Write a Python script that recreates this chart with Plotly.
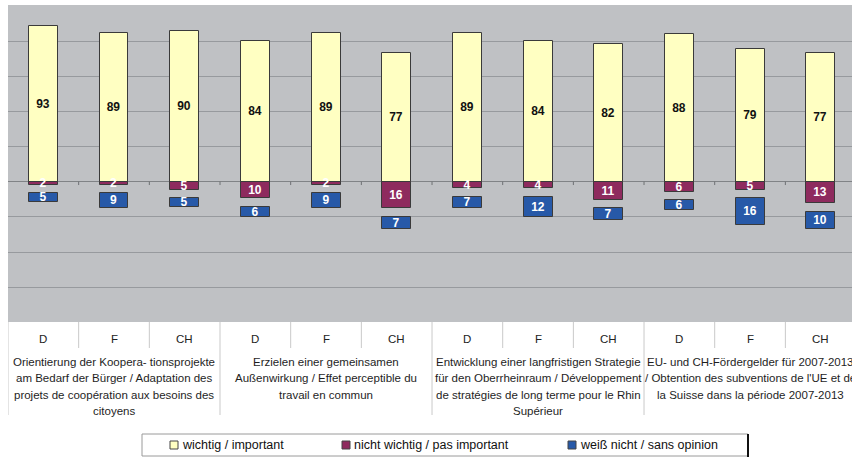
import plotly.graph_objects as go

# ---- data -------------------------------------------------------------
countries = ["D", "F", "CH"] * 4
wichtig = [93, 89, 90, 84, 89, 77, 89, 84, 82, 88, 79, 77]
nicht_wichtig = [2, 2, 5, 10, 2, 16, 4, 4, 11, 6, 5, 13]
weiss_nicht = [5, 9, 5, 6, 9, 7, 7, 12, 7, 6, 16, 10]

group_labels = [
    ["Orientierung der Koopera- tionsprojekte",
     "am Bedarf der Bürger / Adaptation des",
     "projets de coopération aux besoins des",
     "citoyens"],
    ["Erzielen einer gemeinsamen",
     "Außenwirkung / Effet perceptible du",
     "travail en commun"],
    ["Entwicklung einer langfristigen Strategie",
     "für den Oberrheinraum / Développement",
     "de stratégies de long terme pour le Rhin",
     "Supérieur"],
    ["EU- und CH-Fördergelder für 2007-2013",
     "/ Obtention des subventions de l'UE et de",
     "la Suisse dans la période 2007-2013"],
]

series_names = ["wichtig / important",
                "nicht wichtig / pas important",
                "weiß nicht / sans opinion"]

# ---- style ------------------------------------------------------------
W, H = 852, 457
M_L, M_R, M_T, M_B = 8, 0, 5, 135
PLOT_W = W - M_L - M_R
PLOT_H = H - M_T - M_B
FONT = "Liberation Sans, Arial, sans-serif"
C_YEL = "#ffffc2"
C_MAR = "#8e2b5e"
C_BLU = "#2759a8"
C_EDGE = "#3a3a3a"
BG = "#bfc1c4"
GRID = "#979a9e"
GAP = 5          # visual gap between the "nicht wichtig" and "weiß nicht" bars
BAR_W = 0.41
CAT_PX = 70.67   # pixel width of one category slot

n = len(countries)
x = list(range(n))
x_max = PLOT_W / CAT_PX - 0.5


def py_to_paper(py):
    return (H - M_B - py) / PLOT_H


def px_to_paper(px):
    return (px - M_L) / PLOT_W


def bar_text_font(color):
    return dict(family=FONT, size=12, color=color, weight="bold")


fig = go.Figure()

fig.add_trace(go.Bar(
    x=x, y=wichtig, width=BAR_W, name=series_names[0],
    marker=dict(color=C_YEL, line=dict(color=C_EDGE, width=1)),
    text=[str(v) for v in wichtig], textposition="inside",
    insidetextanchor="middle", textangle=0,
    textfont=bar_text_font("#111111"),
))
fig.add_trace(go.Bar(
    x=x, y=[-v for v in nicht_wichtig], width=BAR_W, name=series_names[1],
    marker=dict(color=C_MAR, line=dict(color=C_EDGE, width=1)),
    text=[str(v) for v in nicht_wichtig], textposition="inside",
    insidetextanchor="middle", textangle=0,
    textfont=bar_text_font("white"),
))
fig.add_trace(go.Bar(
    x=x, y=[-v for v in weiss_nicht],
    base=[-(v + GAP) for v in nicht_wichtig],
    width=BAR_W, name=series_names[2],
    marker=dict(color=C_BLU, line=dict(color=C_EDGE, width=1)),
    text=[str(v) for v in weiss_nicht], textposition="inside",
    insidetextanchor="middle", textangle=0,
    textfont=bar_text_font("white"),
))

shapes = []
annotations = []

# small tick marks on the zero line at category boundaries
for i in range(n):
    shapes.append(dict(type="line", xref="x", yref="y",
                       x0=i + 0.5, x1=i + 0.5, y0=0, y1=-2,
                       line=dict(color="#6d7073", width=1)))

# category table below the plot
for i in range(-1, n - 1):
    xb = i + 0.5
    long_line = (i + 1) % 3 == 0
    shapes.append(dict(type="line", xref="x", yref="paper",
                       x0=xb, x1=xb, y0=py_to_paper(322),
                       y1=py_to_paper(415 if long_line else 348),
                       line=dict(color="#c9c9c9", width=1)))

for i, c in enumerate(countries):
    annotations.append(dict(x=i, y=py_to_paper(339), xref="x", yref="paper",
                            text=c, showarrow=False, xanchor="center",
                            yanchor="middle",
                            font=dict(family=FONT, size=11.5, color="#222222")))

for g, lines in enumerate(group_labels):
    for k, line in enumerate(lines):
        annotations.append(dict(x=3 * g + 1, y=py_to_paper(361.5 + 16.5 * k),
                                xref="x", yref="paper", text=line,
                                showarrow=False, xanchor="center",
                                yanchor="middle",
                                font=dict(family=FONT, size=11.5,
                                          color="#1e1e1e")))

# legend box
box_x0, box_x1, box_y0, box_y1 = 142, 748, 434, 456
shapes.append(dict(type="rect", xref="paper", yref="paper",
                   x0=px_to_paper(box_x0), x1=px_to_paper(box_x1),
                   y0=py_to_paper(box_y1), y1=py_to_paper(box_y0),
                   line=dict(color="#9a9a9a", width=1), fillcolor="white",
                   layer="below"))
shapes.append(dict(type="line", xref="paper", yref="paper",
                   x0=px_to_paper(box_x1), x1=px_to_paper(box_x1),
                   y0=py_to_paper(457), y1=py_to_paper(box_y0),
                   line=dict(color="#111111", width=2)))

legend_items = [(series_names[0], C_YEL, 170),
                (series_names[1], C_MAR, 342),
                (series_names[2], C_BLU, 568)]
ly = 445
for name, col, sx in legend_items:
    shapes.append(dict(type="rect", xref="paper", yref="paper",
                       x0=px_to_paper(sx), x1=px_to_paper(sx + 8),
                       y0=py_to_paper(ly + 4), y1=py_to_paper(ly - 4),
                       fillcolor=col, line=dict(color="#444444", width=1)))
    annotations.append(dict(x=px_to_paper(sx + 10), y=py_to_paper(ly),
                            xref="paper", yref="paper", text=name,
                            showarrow=False, xanchor="left", yanchor="middle",
                            font=dict(family=FONT, size=12.5, color="#111111")))

fig.update_layout(
    width=W, height=H,
    margin=dict(l=M_L, r=M_R, t=M_T, b=M_B, pad=0),
    paper_bgcolor="white", plot_bgcolor=BG,
    barmode="overlay", bargap=0,
    uniformtext=dict(minsize=12, mode="show"),
    showlegend=False,
    xaxis=dict(range=[-0.5, x_max], showticklabels=False, showgrid=False,
               zeroline=False, ticks="", fixedrange=True),
    yaxis=dict(range=[-83.8, 105.5], tick0=0, dtick=21,
               showticklabels=False, showgrid=True, gridcolor=GRID,
               gridwidth=1, zeroline=True, zerolinecolor="#808386",
               zerolinewidth=1, ticks="", fixedrange=True),
    shapes=shapes, annotations=annotations,
)

fig.write_html("out.html")
